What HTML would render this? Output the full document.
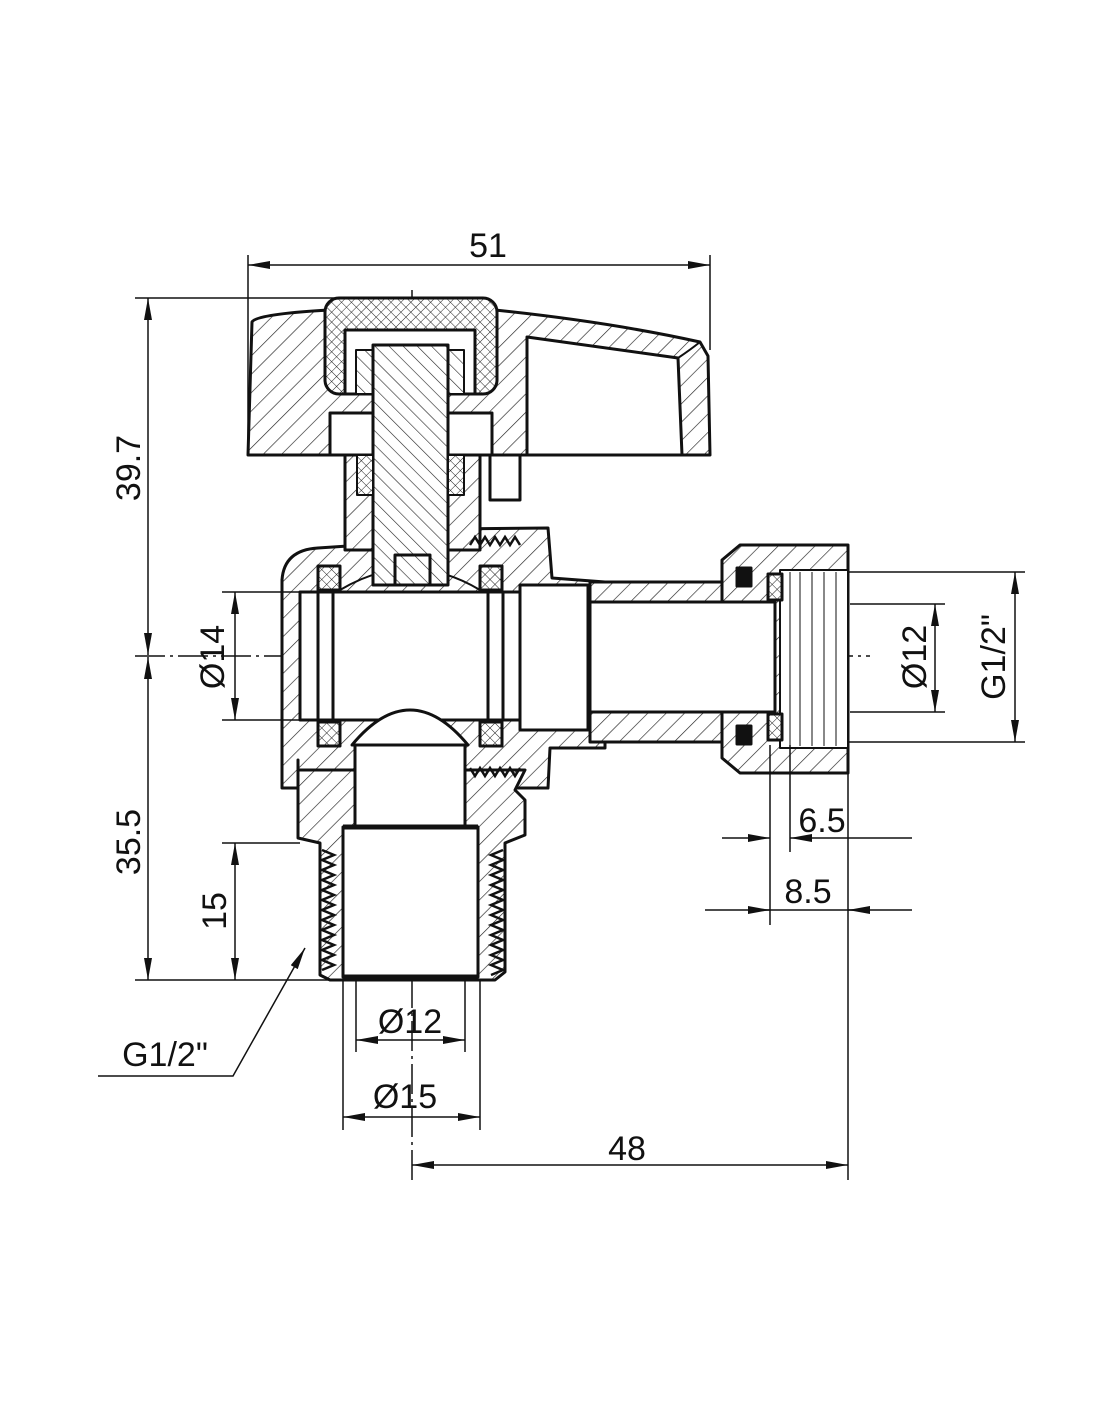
<!DOCTYPE html>
<html><head><meta charset="utf-8"><style>
html,body{margin:0;padding:0;background:#fff}
svg{display:block}
text{font-family:"Liberation Sans Narrow","Liberation Sans",sans-serif;font-size:34px;fill:#111}
</style></head><body>
<svg width="1100" height="1422" viewBox="0 0 1100 1422" xmlns="http://www.w3.org/2000/svg">
<defs>
<pattern id="h" patternUnits="userSpaceOnUse" width="13" height="13" patternTransform="rotate(45)"><rect width="13" height="13" fill="#fff"/><line x1="0" y1="0" x2="0" y2="13" stroke="#222" stroke-width="1.3"/></pattern>
<pattern id="h2" patternUnits="userSpaceOnUse" width="10" height="10" patternTransform="rotate(-45)"><rect width="10" height="10" fill="#fff"/><line x1="0" y1="0" x2="0" y2="10" stroke="#222" stroke-width="1.2"/></pattern>
<pattern id="x" patternUnits="userSpaceOnUse" width="7" height="7" patternTransform="rotate(45)"><rect width="7" height="7" fill="#fff"/><line x1="0" y1="0" x2="0" y2="7" stroke="#222" stroke-width="1"/><line x1="0" y1="0" x2="7" y2="0" stroke="#222" stroke-width="1"/></pattern>
<marker id="a" markerWidth="22" markerHeight="8" refX="22" refY="4" orient="auto-start-reverse" markerUnits="userSpaceOnUse"><path d="M0,0 L22,4 L0,8 Z" fill="#111"/></marker>
</defs>
<g stroke="#111" fill="none" stroke-width="1.5">
<line x1="412" y1="290" x2="412" y2="1180" stroke-dasharray="30,5,3,5"/>
<line x1="135" y1="656" x2="870" y2="656" stroke-dasharray="30,5,3,5"/>
</g>
<g stroke="#111" stroke-width="3" stroke-linejoin="round">
<path d="M248,455 L252,322 Q256,314 330,310 L495,310 Q610,322 700,342 L708,356 L710,455 Z" fill="url(#h)"/>
<path d="M527,337 L678,358 L682,455 L527,455 Z" fill="#fff"/>
<path d="M527,337 L678,358 Q690,350 700,342" fill="none" stroke-width="2"/>
<rect x="325" y="298" width="172" height="96" rx="14" fill="url(#x)"/>
<rect x="345" y="330" width="130" height="64" fill="#fff"/>
<rect x="356" y="350" width="108" height="44" fill="url(#h2)" stroke-width="2"/>
<rect x="330" y="413" width="162" height="42" fill="#fff"/>
<path d="M282,770 L282,580 Q284,550 318,548 L348,546 L348,530 L548,528 L552,578 L605,582 L605,748 L550,748 L548,788 L282,788 Z" fill="url(#h)"/>
<path d="M298,760 L298,838 L320,843 L320,975 L330,980 L495,980 L505,972 L505,843 L525,835 L525,800 L515,790 L525,770 L298,770 Z" fill="url(#h)"/>
<rect x="345" y="455" width="135" height="95" fill="url(#h)"/>
<rect x="490" y="455" width="30" height="45" fill="#fff"/>
<rect x="590" y="582" width="170" height="160" fill="url(#h)"/>
<path d="M722,560 L740,545 L848,545 L848,773 L740,773 L722,758 Z" fill="url(#h)"/>
<rect x="300" y="592" width="220" height="128" fill="#fff"/>
<line x1="318" y1="592" x2="318" y2="720"/><line x1="333" y1="592" x2="333" y2="720"/>
<line x1="488" y1="592" x2="488" y2="720"/><line x1="503" y1="592" x2="503" y2="720"/>
<rect x="520" y="585" width="68" height="145" fill="#fff"/>
<rect x="590" y="602" width="185" height="110" fill="#fff"/>
<rect x="780" y="570" width="68" height="178" fill="#fff" stroke-width="2"/>
<path d="M790,572 L790,746 M800,572 L800,746 M812,572 L812,746 M824,572 L824,746 M836,572 L836,746" stroke-width="1"/>
<rect x="768" y="574" width="14" height="26" fill="url(#x)"/>
<rect x="768" y="714" width="14" height="26" fill="url(#x)"/>
<rect x="737" y="568" width="14" height="18" fill="#111"/>
<rect x="737" y="726" width="14" height="18" fill="#111"/>
<rect x="355" y="742" width="110" height="88" fill="#fff"/>
<rect x="343" y="827" width="135" height="150" fill="#fff"/>
<line x1="343" y1="977" x2="478" y2="977" stroke-width="5"/>
<line x1="343" y1="827" x2="478" y2="827" stroke-width="5"/>
<path d="M352,745 Q410,675 468,745 Z" fill="#fff"/>
<path d="M340,590 Q410,548 480,590" fill="none" stroke-width="2"/>
<rect x="373" y="345" width="75" height="240" fill="url(#h2)"/>
<rect x="395" y="555" width="35" height="30" fill="url(#h2)"/>
<rect x="318" y="566" width="22" height="24" fill="url(#x)"/>
<rect x="480" y="566" width="22" height="24" fill="url(#x)"/>
<rect x="318" y="722" width="22" height="24" fill="url(#x)"/>
<rect x="480" y="722" width="22" height="24" fill="url(#x)"/>
<rect x="357" y="455" width="16" height="40" fill="url(#x)" stroke-width="2"/>
<rect x="448" y="455" width="16" height="40" fill="url(#x)" stroke-width="2"/>
</g>
<g stroke="#111" stroke-width="2.5" fill="none">
<path d="M322,850 l12,5 -12,5 12,5 -12,5 12,5 -12,5 12,5 -12,5 12,5 -12,5 12,5 -12,5 12,5 -12,5 12,5 -12,5 12,5 -12,5 12,5 -12,5 12,5 -12,5 12,5 -12,5"/>
<path d="M503,850 l-12,5 12,5 -12,5 12,5 -12,5 12,5 -12,5 12,5 -12,5 12,5 -12,5 12,5 -12,5 12,5 -12,5 12,5 -12,5 12,5 -12,5 12,5 -12,5 12,5 -12,5 12,5 -12,5"/>
<path d="M470,545 l5,-8 5,8 5,-8 5,8 5,-8 5,8 5,-8 5,8 5,-8 5,8"/>
<path d="M470,768 l5,8 5,-8 5,8 5,-8 5,8 5,-8 5,8 5,-8 5,8 5,-8"/>
</g>
<g stroke="#111" stroke-width="1.5" fill="none">
<line x1="248" y1="255" x2="248" y2="455"/><line x1="710" y1="255" x2="710" y2="350"/>
<line x1="248" y1="265" x2="710" y2="265" marker-start="url(#a)" marker-end="url(#a)"/>
<line x1="135" y1="298" x2="420" y2="298"/>
<line x1="135" y1="980" x2="330" y2="980"/>
<line x1="148" y1="298" x2="148" y2="655" marker-start="url(#a)" marker-end="url(#a)"/>
<line x1="148" y1="657" x2="148" y2="980" marker-start="url(#a)" marker-end="url(#a)"/>
<line x1="222" y1="843" x2="300" y2="843"/>
<line x1="235" y1="843" x2="235" y2="980" marker-start="url(#a)" marker-end="url(#a)"/>
<line x1="222" y1="592" x2="300" y2="592"/><line x1="222" y1="720" x2="300" y2="720"/>
<line x1="235" y1="592" x2="235" y2="720" marker-start="url(#a)" marker-end="url(#a)"/>
<line x1="850" y1="604" x2="945" y2="604"/><line x1="850" y1="712" x2="945" y2="712"/>
<line x1="935" y1="604" x2="935" y2="712" marker-start="url(#a)" marker-end="url(#a)"/>
<line x1="848" y1="572" x2="1025" y2="572"/><line x1="848" y1="742" x2="1025" y2="742"/>
<line x1="1015" y1="572" x2="1015" y2="742" marker-start="url(#a)" marker-end="url(#a)"/>
<line x1="770" y1="745" x2="770" y2="925"/><line x1="790" y1="745" x2="790" y2="852"/>
<line x1="848" y1="773" x2="848" y2="1180"/>
<line x1="722" y1="838" x2="770" y2="838" marker-end="url(#a)"/>
<line x1="912" y1="838" x2="790" y2="838" marker-end="url(#a)"/>
<line x1="705" y1="910" x2="912" y2="910" />
<line x1="748" y1="910" x2="770" y2="910" marker-end="url(#a)"/>
<line x1="870" y1="910" x2="848" y2="910" marker-end="url(#a)"/>
<line x1="356" y1="980" x2="356" y2="1052"/><line x1="465" y1="980" x2="465" y2="1052"/>
<line x1="356" y1="1040" x2="465" y2="1040" marker-start="url(#a)" marker-end="url(#a)"/>
<line x1="343" y1="980" x2="343" y2="1130"/><line x1="480" y1="980" x2="480" y2="1130"/>
<line x1="343" y1="1117" x2="480" y2="1117" marker-start="url(#a)" marker-end="url(#a)"/>
<line x1="412" y1="1165" x2="848" y2="1165" marker-start="url(#a)" marker-end="url(#a)"/>
<polyline points="98,1076 233,1076 305,948" marker-end="url(#a)"/>
</g>
<g>
<text x="488" y="257" text-anchor="middle">51</text>
<text transform="translate(140,468) rotate(-90)" text-anchor="middle">39.7</text>
<text transform="translate(140,842) rotate(-90)" text-anchor="middle">35.5</text>
<text transform="translate(226,911) rotate(-90)" text-anchor="middle">15</text>
<text transform="translate(224,657) rotate(-90)" text-anchor="middle">Ø14</text>
<text transform="translate(926,657) rotate(-90)" text-anchor="middle">Ø12</text>
<text transform="translate(1005,657) rotate(-90)" text-anchor="middle">G1/2"</text>
<text x="822" y="832" text-anchor="middle">6.5</text>
<text x="808" y="903" text-anchor="middle">8.5</text>
<text x="410" y="1033" text-anchor="middle">Ø12</text>
<text x="405" y="1108" text-anchor="middle">Ø15</text>
<text x="627" y="1160" text-anchor="middle">48</text>
<text x="165" y="1066" text-anchor="middle">G1/2"</text>
</g>
</svg>
</body></html>
